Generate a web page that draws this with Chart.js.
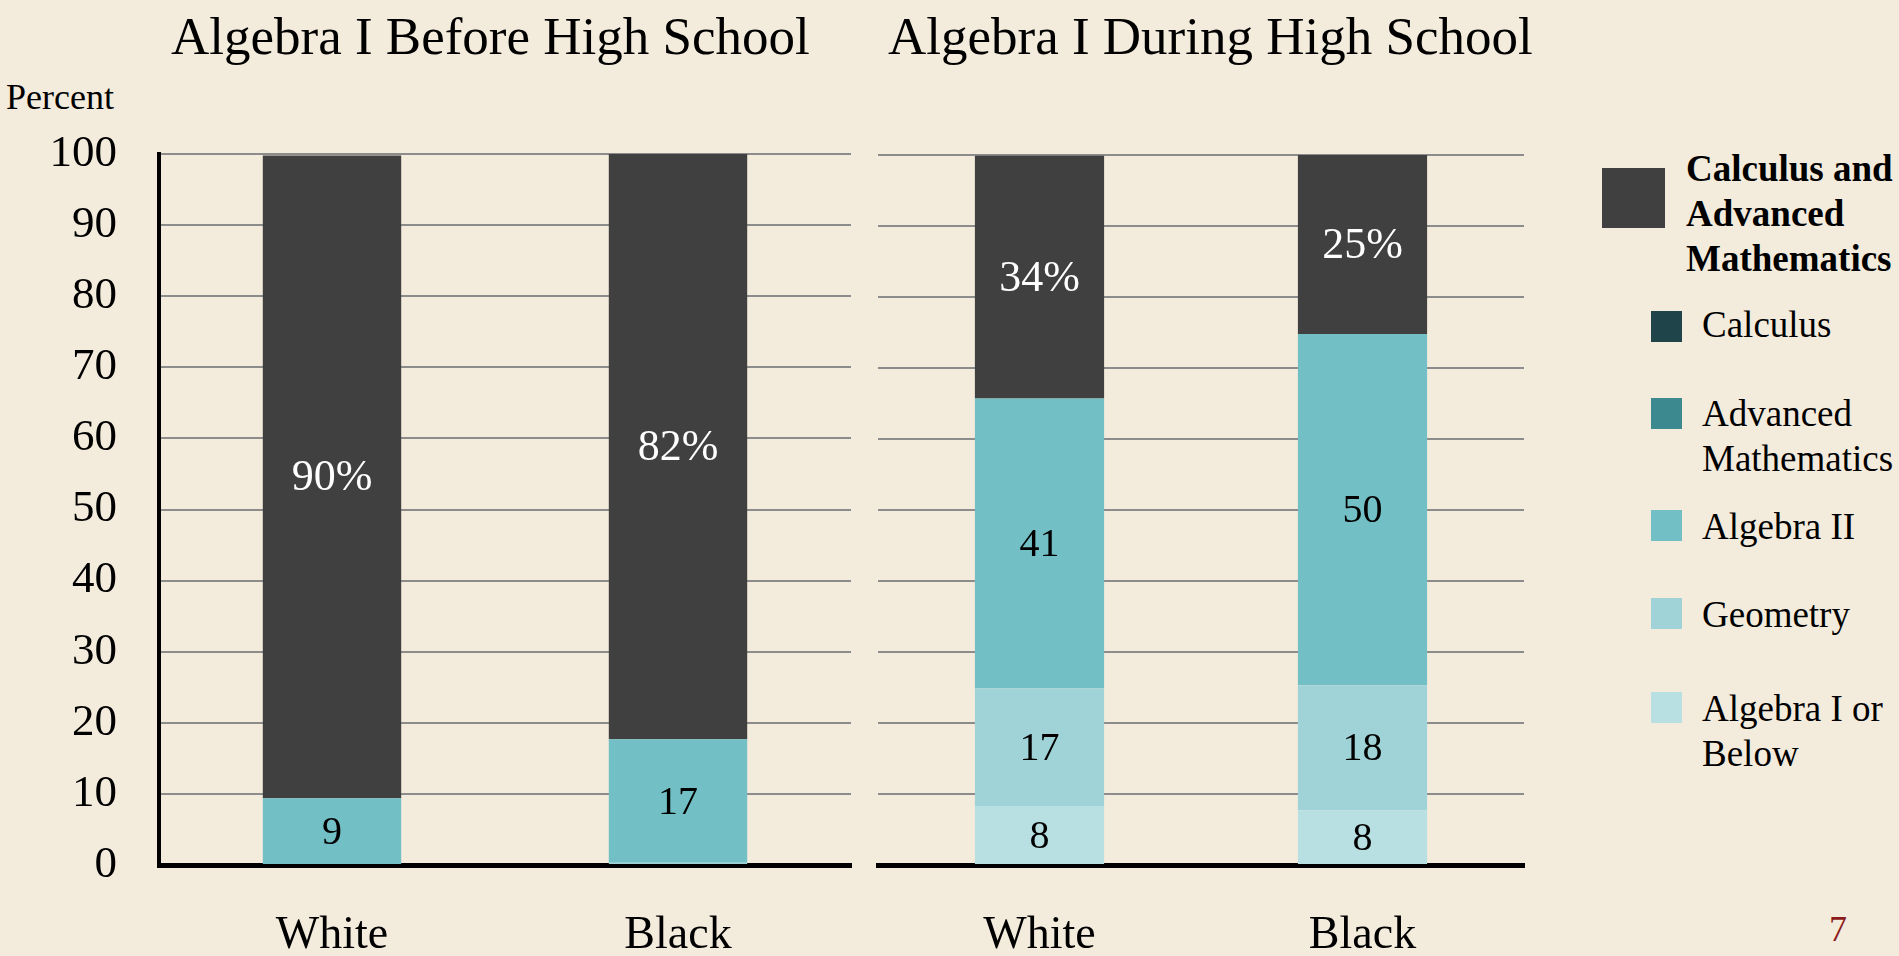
<!DOCTYPE html>
<html>
<head>
<meta charset="utf-8">
<script src="https://cdn.jsdelivr.net/npm/chart.js@4.4.0/dist/chart.umd.min.js"></script>
<style>
  body { margin: 0; background: #f3ebdc; font-family: 'Liberation Serif', serif; }
  #page { position: relative; width: 1899px; height: 956px; overflow: hidden; background: #f3ebdc; }
  .box { position: absolute; }
  .txt { position: absolute; white-space: nowrap; color: #000; line-height: 1; }
  .leg { position: absolute; font-size: 37px; line-height: 45px; white-space: nowrap; }
  .sq { position: absolute; width: 31px; height: 31px; }
</style>
</head>
<body>
<div id="page">
  <div class="txt" style="left:171px; top:10px; font-size:53px;">Algebra I Before High School</div>
  <div class="txt" style="left:888px; top:10px; font-size:53px;">Algebra I During High School</div>
  <div class="txt" style="left:6px; top:79px; font-size:36px;">Percent</div>

  <div class="box" style="left:0; top:0; width:870px; height:956px;"><canvas id="before"></canvas></div>
  <div class="box" style="left:870px; top:0; width:680px; height:956px;"><canvas id="during"></canvas></div>

  <div class="sq" style="left:1602px; top:168px; width:63px; height:60px; background:#404040;"></div>
  <div class="leg" style="left:1686px; top:146px; font-weight:bold;">Calculus and<br>Advanced<br>Mathematics</div>

  <div class="sq" style="left:1651px; top:311px; background:#1f4449;"></div>
  <div class="leg" style="left:1702px; top:302px;">Calculus</div>
  <div class="sq" style="left:1651px; top:398px; background:#3c8a90;"></div>
  <div class="leg" style="left:1702px; top:391px;">Advanced<br>Mathematics</div>
  <div class="sq" style="left:1651px; top:510px; background:#72bfc5;"></div>
  <div class="leg" style="left:1702px; top:504px;">Algebra II</div>
  <div class="sq" style="left:1651px; top:598px; background:#9fd3d8;"></div>
  <div class="leg" style="left:1702px; top:592px;">Geometry</div>
  <div class="sq" style="left:1651px; top:692px; background:#b8e0e3;"></div>
  <div class="leg" style="left:1702px; top:686px;">Algebra I or<br>Below</div>

  <div class="txt" style="left:1829px; top:911px; font-size:36px; color:#8b1a1a;">7</div>
</div>

<script>
// categories
const groups = ['White', 'Black'];

// Algebra I before high school (percent)
const beforeAlg1Below = [0, 0];
const beforeGeometry = [0, 0.3];
const beforeAlg2 = [9.4, 17.4];
const beforeCalcAdv = [90.4, 82.3];

// Algebra I during high school (percent)
const duringAlg1Below = [8.3, 7.7];
const duringGeometry = [16.6, 17.6];
const duringAlg2 = [40.8, 49.5];
const duringCalcAdv = [34.2, 25.2];

const yTicks = [0, 10, 20, 30, 40, 50, 60, 70, 80, 90, 100];

const colors = {
    alg1: '#b8e0e3',
    geo: '#9fd3d8',
    alg2: '#72bfc5',
    calcAdv: '#404040'
};

const serif = 'Liberation Serif';

// writes the value in the middle of each segment
const segmentLabels = {
    id: 'segmentLabels',
    afterDatasetsDraw(chart) {
        const ctx = chart.ctx;
        ctx.save();
        ctx.textAlign = 'center';
        ctx.textBaseline = 'middle';
        chart.data.datasets.forEach((ds, i) => {
            const meta = chart.getDatasetMeta(i);
            meta.data.forEach((bar, j) => {
                const v = ds.data[j];
                if (v < 3) return;
                const dark = ds.label === 'Calculus and Advanced Mathematics';
                ctx.fillStyle = dark ? '#ffffff' : '#000000';
                ctx.font = (dark ? 44 : 40) + 'px "' + serif + '"';
                const text = Math.round(v) + (dark ? '%' : '');
                ctx.fillText(text, bar.x, (bar.y + bar.base) / 2 + 2);
            });
        });
        ctx.restore();
    }
};

function makeDatasets(alg1, geo, alg2, calcAdv) {
    return [
        { label: 'Algebra I or Below', data: alg1, backgroundColor: colors.alg1 },
        { label: 'Geometry', data: geo, backgroundColor: colors.geo },
        { label: 'Algebra II', data: alg2, backgroundColor: colors.alg2 },
        { label: 'Calculus and Advanced Mathematics', data: calcAdv, backgroundColor: colors.calcAdv }
    ];
}

function makeChart(id, datasets, showAxis, padding) {
    const ctx = document.getElementById(id).getContext('2d');
    return new Chart(ctx, {
        type: 'bar',
        data: { labels: groups, datasets: datasets },
        options: {
            responsive: true,
            maintainAspectRatio: false,
            animation: false,
            barPercentage: 0.4,
            categoryPercentage: 1.0,
            layout: { padding: padding },
            plugins: {
                legend: { display: false },
                tooltip: { enabled: false }
            },
            scales: {
                x: {
                    stacked: true,
                    grid: { display: false, drawTicks: false },
                    border: { display: true, color: '#000000', width: 5 },
                    ticks: {
                        color: '#000000',
                        padding: 43,
                        font: { family: serif, size: 46 }
                    },
                    afterFit: (s) => { s.height = 91; }
                },
                y: {
                    stacked: true,
                    min: 0,
                    max: 100,
                    afterBuildTicks: (s) => { s.ticks = yTicks.map(v => ({ value: v })); },
                    grid: { color: '#8c8c8c', lineWidth: 2, drawTicks: false },
                    border: { display: showAxis, color: '#000000', width: 4 },
                    ticks: {
                        display: showAxis,
                        color: '#000000',
                        padding: 42,
                        font: { family: serif, size: 45 }
                    },
                    afterFit: (s) => { s.width = showAxis ? 159 : 0; }
                }
            }
        },
        plugins: [segmentLabels]
    });
}

makeChart('before', makeDatasets(beforeAlg1Below, beforeGeometry, beforeAlg2, beforeCalcAdv), true,
    { top: 154, right: 19, left: 0, bottom: 0 });
makeChart('during', makeDatasets(duringAlg1Below, duringGeometry, duringAlg2, duringCalcAdv), false,
    { top: 155, right: 26, left: 8, bottom: 0 });
</script>
</body>
</html>
